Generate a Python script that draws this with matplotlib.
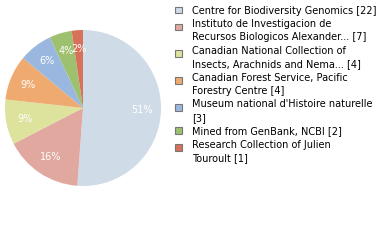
import matplotlib
matplotlib.use('Agg')
import matplotlib.pyplot as plt
from matplotlib.patches import Rectangle

labels = [
    'Centre for Biodiversity Genomics [22]',
    'Instituto de Investigacion de\nRecursos Biologicos Alexander... [7]',
    'Canadian National Collection of\nInsects, Arachnids and Nema... [4]',
    'Canadian Forest Service, Pacific\nForestry Centre [4]',
    "Museum national d'Histoire naturelle\n[3]",
    'Mined from GenBank, NCBI [2]',
    'Research Collection of Julien\nTouroult [1]',
]
counts = [22, 7, 4, 4, 3, 2, 1]
colors = ['#cfdbe7', '#e0a89e', '#dde29d', '#efab6f', '#9ab8df', '#9dc16e', '#d8715a']

W, H = 380, 240
fig = plt.figure(figsize=(W / 100, H / 100), dpi=100)

# pie centre about (83,108) px, radius 78
cx, cy, r = 83, 108, 78
ax = fig.add_axes([(cx - r) / W, (H - cy - r) / H, 2 * r / W, 2 * r / H])
wedges, texts, autotexts = ax.pie(
    counts, colors=colors, startangle=90, counterclock=False,
    autopct=lambda p: '%d%%' % int(p), pctdistance=0.76,
    textprops={'color': 'white', 'fontsize': 7},
    wedgeprops={'linewidth': 0})
ax.set_xlim(-1, 1)
ax.set_ylim(-1, 1)
ax.set_aspect('equal')

# legend, drawn by hand (pixel positions from the top)
line_h = 13.4
y = 10
for lab, col in zip(labels, colors):
    lines = lab.split('\n')
    sq = y + (3.5 if len(lines) > 1 else 0)
    fig.patches.append(Rectangle((175 / W, 1 - (sq + 3.3) / H), 6.6 / W, 6.6 / H,
                                 transform=fig.transFigure, facecolor=col,
                                 edgecolor='#777777', linewidth=0.8))
    for ln in lines:
        fig.text(192 / W, 1 - (y + 3.5) / H, ln, fontsize=7, va='baseline',
                 ha='left', color='black')
        y += line_h

fig.savefig('out.png', dpi=100)
